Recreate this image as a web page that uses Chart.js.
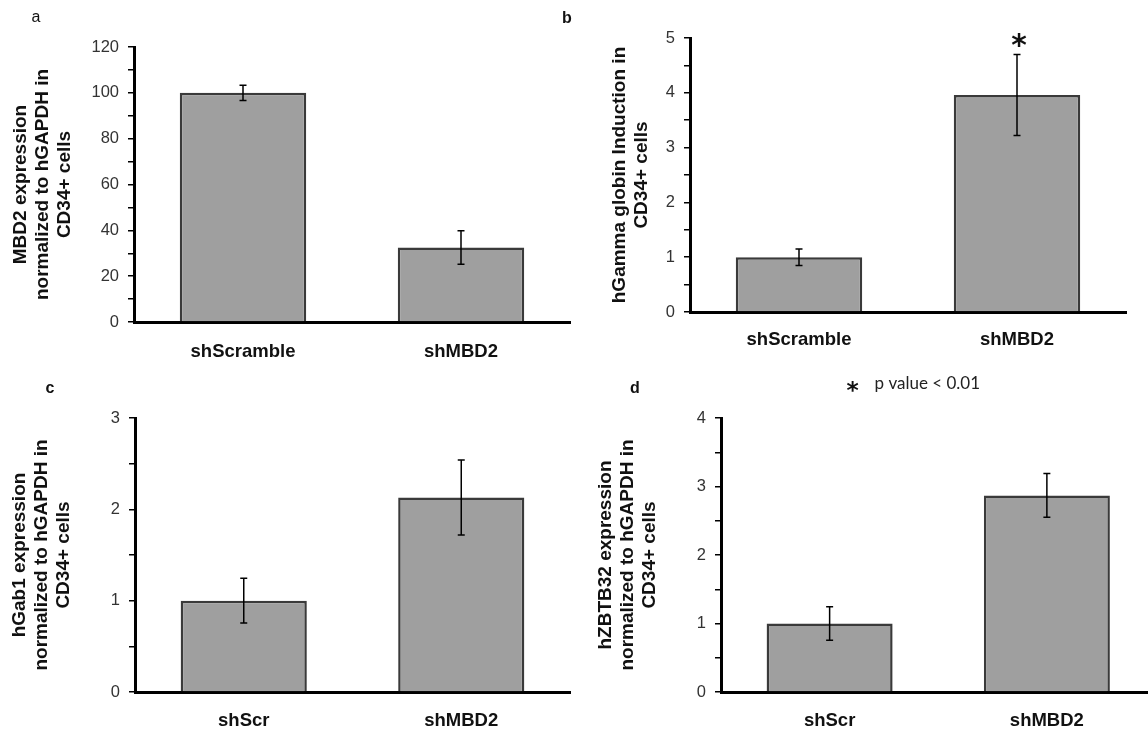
<!DOCTYPE html>
<html>
<head>
<meta charset="utf-8">
<script src="https://cdn.jsdelivr.net/npm/chart.js@4.4.1/dist/chart.umd.min.js"></script>
<style>
  html, body { margin:0; padding:0; background:#fff; width:1148px; height:734px; overflow:hidden; position:relative; }
  canvas { position:absolute; }
  .plabel { position:absolute; font-family:"Liberation Sans", Arial, sans-serif; font-size:16px; color:#111; transform:translate(-50%,-50%); line-height:1; }
</style>
</head>
<body>
<canvas id="chartA"></canvas>
<canvas id="chartB"></canvas>
<canvas id="chartC"></canvas>
<canvas id="chartD"></canvas>
<div class="plabel" style="left:36px;top:17px;">a</div>
<div class="plabel" style="left:567px;top:18px;font-weight:bold;">b</div>
<div class="plabel" style="left:50px;top:388px;font-weight:bold;">c</div>
<div class="plabel" style="left:635px;top:388px;font-weight:bold;">d</div>
<script>
// ---------- data ----------
const categoriesAB = ['shScramble', 'shMBD2'];
const categoriesCD = ['shScr', 'shMBD2'];

const mbd2Values   = [100, 32.5];
const mbd2Errors   = [3.3, 7.3];
const gammaValues  = [1.0, 3.96];
const gammaErrors  = [0.15, 0.74];
const gab1Values   = [1.0, 2.13];
const gab1Errors   = [0.245, 0.41];
const zbtb32Values = [1.0, 2.87];
const zbtb32Errors = [0.245, 0.32];

const gammaSignificant = [false, true];

const yMaxA = 120, yStepA = 10, yLabelEveryA = 20;
const yMaxB = 5,   yStepB = 0.5, yLabelEveryB = 1;
const yMaxC = 3,   yStepC = 0.5, yLabelEveryC = 1;
const yMaxD = 4,   yStepD = 0.5, yLabelEveryD = 1;

const titleA = ['MBD2 expression', 'normalized to hGAPDH in', 'CD34+ cells'];
const titleB = ['hGamma globin Induction in', 'CD34+ cells'];
const titleC = ['hGab1 expression', 'normalized to hGAPDH in', 'CD34+ cells'];
const titleD = ['hZBTB32 expression', 'normalized to hGAPDH in', 'CD34+ cells'];

const pValueNote = 'p value < 0.01';

// ---------- drawing helpers ----------
const FAMILY = '"Liberation Sans", Arial, sans-serif';

function drawStar(ctx, cx, cy, h) {
  ctx.save();
  ctx.font = 'bold 100px "DejaVu Sans"';
  const m = ctx.measureText('*');
  const gh = m.actualBoundingBoxAscent + m.actualBoundingBoxDescent;
  const size = 100 * h / gh;
  ctx.font = 'bold ' + size + 'px "DejaVu Sans"';
  const m2 = ctx.measureText('*');
  ctx.textAlign = 'center';
  ctx.textBaseline = 'alphabetic';
  ctx.fillStyle = '#111';
  ctx.fillText('*', cx, cy + (m2.actualBoundingBoxAscent - m2.actualBoundingBoxDescent) / 2);
  ctx.restore();
}

const errorBarPlugin = {
  id: 'errorBars',
  afterDatasetsDraw(chart, args, opts) {
    const ctx = chart.ctx;
    const yScale = chart.scales.y;
    const meta = chart.getDatasetMeta(0);
    const vals = chart.data.datasets[0].data;
    ctx.save();
    ctx.strokeStyle = '#000';
    ctx.lineWidth = 1.5;
    meta.data.forEach((bar, i) => {
      const v = vals[i], e = opts.errors[i];
      const top = yScale.getPixelForValue(v + e);
      const bot = yScale.getPixelForValue(v - e);
      const x = bar.x;
      ctx.beginPath();
      ctx.moveTo(x, top); ctx.lineTo(x, bot);
      ctx.moveTo(x - opts.cap, top); ctx.lineTo(x + opts.cap, top);
      ctx.moveTo(x - opts.cap, bot); ctx.lineTo(x + opts.cap, bot);
      ctx.stroke();
      if (opts.stars && opts.stars[i]) {
        drawStar(ctx, x + 2, top - 14, 14);
      }
    });
    ctx.restore();
  },
  afterDraw(chart, args, opts) {
    if (!opts.note) return;
    const ctx = chart.ctx;
    const n = opts.note;
    drawStar(ctx, n.starX, n.y + 2, 11);
    ctx.save();
    ctx.font = '17px Lato, "Open Sans", sans-serif';
    ctx.fillStyle = '#222';
    ctx.textAlign = 'left';
    ctx.textBaseline = 'middle';
    ctx.fillText(n.text, n.textX, n.y);
    ctx.restore();
  }
};

function makeBarChart(id, box, cats, vals, errs, stars, yMax, yStep, labelEvery, title, note) {
  const el = document.getElementById(id);
  el.style.left = box.left + 'px';
  el.style.top = box.top + 'px';
  el.width = box.w;
  el.height = box.h;
  return new Chart(el, {
    type: 'bar',
    data: {
      labels: cats,
      datasets: [{
        data: vals,
        backgroundColor: '#9f9f9f',
        borderColor: '#3a3a3a',
        borderWidth: 2.5,
        borderSkipped: 'start',
        categoryPercentage: 0.58,
        barPercentage: 1.0
      }]
    },
    options: {
      responsive: false,
      animation: false,
      devicePixelRatio: 1,
      layout: { padding: { top: box.pt, right: box.pr, bottom: 0, left: 0 } },
      plugins: {
        legend: { display: false },
        tooltip: { enabled: false },
        errorBars: { errors: errs, stars: stars, cap: 3.5, note: note }
      },
      scales: {
        x: {
          grid: { display: false, drawTicks: false },
          border: { display: true, color: '#000', width: 3 },
          ticks: { padding: box.lp, color: '#111', font: { family: FAMILY, size: 18.5, weight: 'bold' } },
          afterFit(s) { s.height = box.xh; }
        },
        y: {
          min: 0,
          max: yMax,
          ticks: {
            stepSize: yStep,
            autoSkip: false,
            padding: 9,
            color: '#333',
            font: { family: FAMILY, size: 16.5 },
            callback: (v) => {
              const r = v / labelEvery;
              return Math.abs(r - Math.round(r)) < 1e-6 ? String(v) : '';
            }
          },
          grid: { drawOnChartArea: false, drawTicks: true, tickLength: 6, color: '#000', lineWidth: 1.5 },
          border: { display: true, color: '#000', width: 3 },
          title: {
            display: true,
            text: title,
            color: '#111',
            font: { family: FAMILY, size: 19, weight: 'bold', lineHeight: 1.16 },
            padding: { top: box.tp, bottom: 0 }
          },
          afterFit(s) { s.width = box.yw; }
        }
      }
    },
    plugins: [errorBarPlugin]
  });
}

makeBarChart('chartA', { left: 0, top: 0, w: 575, h: 372, pt: 47, pr: 5, xh: 50, yw: 134, tp: 10, lp: 18.5 },
  categoriesAB, mbd2Values, mbd2Errors, null, yMaxA, yStepA, yLabelEveryA, titleA, null);

makeBarChart('chartB', { left: 560, top: 0, w: 588, h: 372, pt: 38, pr: 22, xh: 60, yw: 130, tp: 49, lp: 16.5 },
  categoriesAB, gammaValues, gammaErrors, gammaSignificant, yMaxB, yStepB, yLabelEveryB, titleB, null);

makeBarChart('chartC', { left: 0, top: 360, w: 575, h: 374, pt: 58, pr: 5, xh: 42, yw: 135, tp: 8.5, lp: 18 },
  categoriesCD, gab1Values, gab1Errors, null, yMaxC, yStepC, yLabelEveryC, titleC, null);

makeBarChart('chartD', { left: 560, top: 360, w: 600, h: 374, pt: 58, pr: 4.5, xh: 42, yw: 161, tp: 35, lp: 18 },
  categoriesCD, zbtb32Values, zbtb32Errors, null, yMaxD, yStepD, yLabelEveryD, titleD,
  { starX: 292.5, textX: 314.5, y: 24, text: pValueNote });
</script>
</body>
</html>
